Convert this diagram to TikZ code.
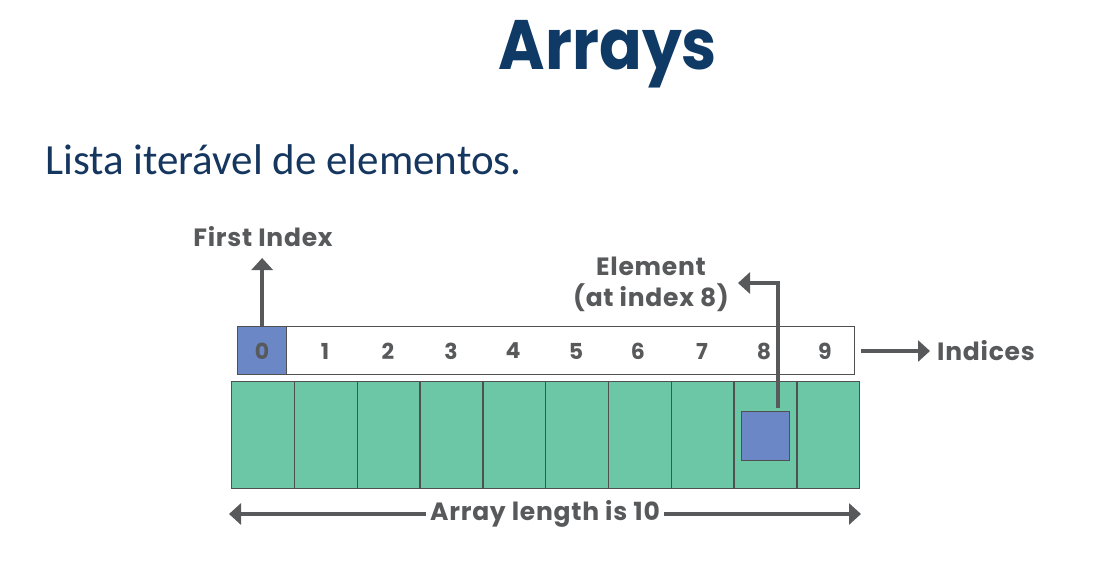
\documentclass[tikz,border=0pt]{standalone}
\usepackage{fontspec}
\setmainfont{Poppins}
\newfontfamily\subfont{Carlito}
\newfontfamily\lblfont[LetterSpace=3]{Poppins}
\usetikzlibrary{arrows.meta}
\definecolor{navy}{HTML}{0F3A66}
\definecolor{subnavy}{HTML}{15365F}
\definecolor{lblgray}{HTML}{58595B}
\definecolor{cellgreen}{HTML}{6BC7A5}
\definecolor{cellblue}{HTML}{6B87C6}
\definecolor{edgegray}{HTML}{505050}
\tikzset{
  lbl/.style={font=\lblfont\fontsize{25}{28}\selectfont\bfseries, text=lblgray, inner sep=0},
  idx/.style={font=\lblfont\fontsize{22}{24}\selectfont\bfseries, text=lblgray, inner sep=0},
  cellbox/.style={draw=edgegray, line width=1.3pt, fill=cellgreen, minimum width=62.8pt, minimum height=107pt, inner sep=0, anchor=north west},
  arr/.style={draw=lblgray, line width=3.5pt, -{Triangle[length=12pt,width=21pt]}}
}
\begin{document}
\begin{tikzpicture}[x=1pt,y=-1pt]
\useasboundingbox[fill=white] (0,0) rectangle (1112,571);
% title
\node[anchor=base, inner sep=0, text=navy, font=\fontsize{70}{74}\selectfont\bfseries] (title) at (608,69) {\scalebox{0.9}[1]{Arrays}};
\node[anchor=base west, inner sep=0, text=subnavy, font=\subfont\fontsize{43}{46}\selectfont] (sub) at (45,174) {Lista iterável de elementos.};
% index row
\node[draw=edgegray, line width=1.3pt, fill=white, minimum width=568pt, minimum height=48pt, inner sep=0, anchor=north west] (irow) at (286,326) {};
\node[draw=edgegray, line width=1.3pt, fill=cellblue, minimum width=49pt, minimum height=48pt, inner sep=0, anchor=north west] (i0) at (237,326) {};
\node[idx] (n0) at (262,351) {0};
\foreach \k/\xx in {1/325,2/388,3/451,4/513,5/576,6/638,7/702,8/764,9/825}{
  \node[idx] (n\k) at (\xx,351) {\k};
}
% green cells
\foreach \k in {0,...,9}{
  \node[cellbox] (c\k) at ({231+62.8*\k},381) {};
}
\node[draw=edgegray, line width=1pt, fill=cellblue, minimum width=48pt, minimum height=49pt, inner sep=0] (elem) at (765,435.5) {};
% First index
\node[lbl] (first) at (263,237) {First Index};
\draw[arr] (i0.north) -- ++(0,-68);
% element arrow
\node[lbl, align=center, font=\lblfont\fontsize{25}{31}\selectfont\bfseries] (eltxt) at (651,284) {Element\\(at index 8)};
\coordinate (etip) at (738,283);
\draw[arr] (778,408) |- (etip);
% indices
\node[lbl, anchor=west] (indices) at (937,351) {Indices};
\coordinate (indtip) at (930,351);
\draw[arr] (861,351) -- (indtip);
% array length
\node[lbl, fill=white, inner xsep=4pt] (len) at (545,514) {Array length is 10};
\coordinate (lenL) at (229,514);
\coordinate (lenR) at (861,514);
\draw[arr] (len.west) -- (lenL);
\draw[arr] (len.east) -- (lenR);
\end{tikzpicture}
\end{document}
